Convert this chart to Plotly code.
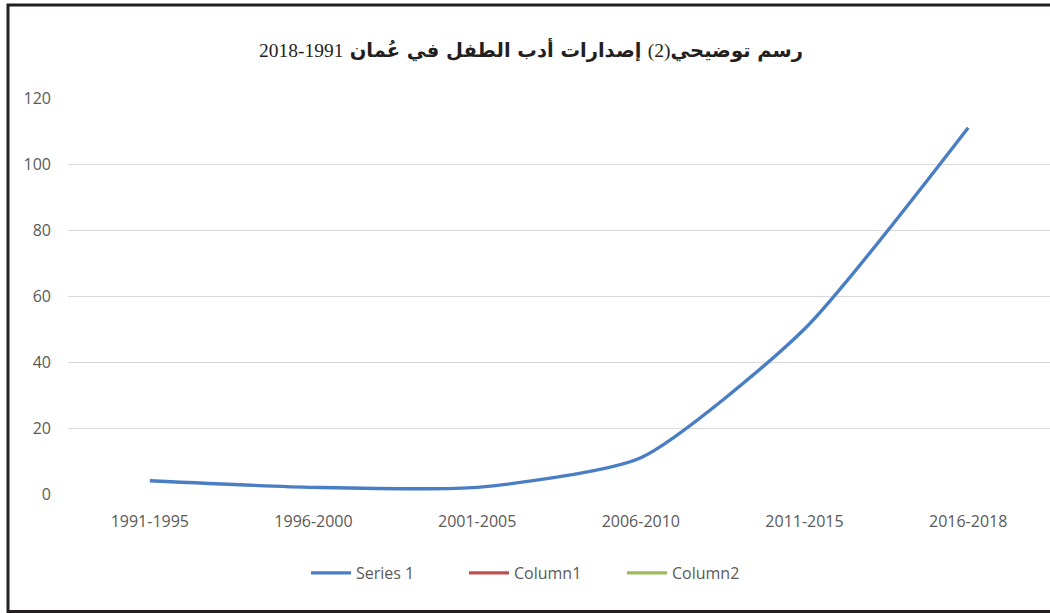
import plotly.graph_objects as go

categories = ["1991-1995", "1996-2000", "2001-2005", "2006-2010", "2011-2015", "2016-2018"]
series1 = [4, 2, 2, 11, 50, 111]
column1 = [None, None, None, None, None, None]
column2 = [None, None, None, None, None, None]
y_ticks = [0, 20, 40, 60, 80, 100, 120]
title_part1 = "رسم توضيحي"
title_num = "(2)"
title_part2 = "إصدارات أدب الطفل في عُمان"
title_years = "1991-2018"

SERIF = "<span style='font-family:Liberation Serif;font-weight:normal'>{}</span>"
title_text = ("<b>" + title_part1 + "</b>" + SERIF.format(title_num) + " <b>" + title_part2
              + "</b> " + SERIF.format(title_years))

fig = go.Figure()
fig.add_trace(go.Scatter(x=categories, y=series1, name="Series 1", mode="lines",
                         line=dict(color="#4A7EC4", width=3.4, shape="spline", smoothing=0.6)))
fig.add_trace(go.Scatter(x=categories, y=column1, name="Column1", mode="lines",
                         line=dict(color="#C0504D", width=3.4)))
fig.add_trace(go.Scatter(x=categories, y=column2, name="Column2", mode="lines",
                         line=dict(color="#9BBB59", width=3.4)))

L, T, B = 68, 98, 119
W, H = 1050, 613
pw = W - L
ph = H - T - B

def px(x):
    return (x - L) / pw

def py(y):
    return (H - B - y) / ph

fig.add_shape(type="rect", xref="paper", yref="paper",
              x0=px(8), x1=px(1080), y0=py(611.5), y1=py(5),
              line=dict(color="#231F20", width=3), fillcolor="rgba(0,0,0,0)", layer="above")

fig.update_layout(
    width=W, height=H,
    margin=dict(l=L, r=0, t=T, b=B),
    paper_bgcolor="white", plot_bgcolor="white",
    title=dict(text=title_text, x=531 / W, xanchor="center",
               y=1 - 50 / H, yanchor="middle",
               font=dict(family="DejaVu Sans", size=19.5, color="#231F20")),
    font=dict(family="Open Sans, Liberation Sans", color="#595959", size=16),
    xaxis=dict(type="category", range=[-0.5, 5.5], showgrid=False, showline=False,
               zeroline=False, ticks="", ticklabelstandoff=16,
               tickfont=dict(size=16, color="#595959")),
    yaxis=dict(range=[0, 120], tickvals=y_ticks, showgrid=True, gridcolor="#D9D9D9",
               gridwidth=1.3, zeroline=False, showline=False, ticks="",
               ticklabelstandoff=16, tickfont=dict(size=16, color="#595959")),
    legend=dict(orientation="h", x=px(543), xanchor="center", y=py(573), yanchor="middle",
                font=dict(size=16, color="#595959"), itemwidth=40, traceorder="normal",
                entrywidth=103, entrywidthmode="pixels"),
    showlegend=True,
)

fig.write_html("out.html", config={"displayModeBar": False},
               post_script="document.body.style.margin='0';")
